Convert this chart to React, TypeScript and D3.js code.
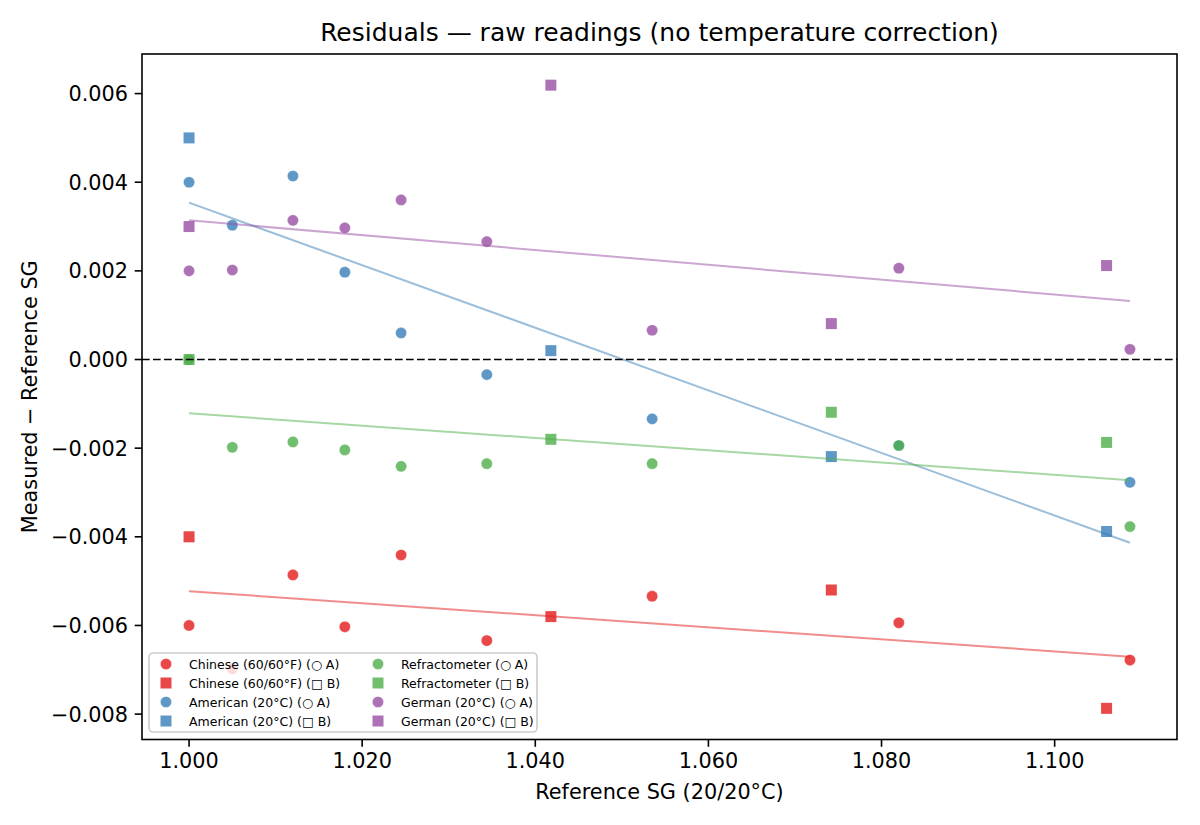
import React from 'react';
import * as d3 from 'd3';

// reference SG positions for the two sample sets
const sgA = [1.0, 1.005, 1.012, 1.018, 1.0245, 1.0344, 1.0535, 1.082, 1.1087];
const sgB = [1.0, 1.0418, 1.0742, 1.106];

const instruments = ['Chinese (60/60°F)', 'American (20°C)', 'Refractometer', 'German (20°C)'];
const colors = ['#e41a1c', '#377eb8', '#4daf4a', '#984ea3'];

// residuals, measured - reference
const chineseA = [-0.006, -0.00698, -0.00486, -0.00603, -0.00441, -0.00634, -0.00534, -0.00594, -0.00678];
const chineseB = [-0.004, -0.0058, -0.0052, -0.00787];
const americanA = [0.004, 0.00303, 0.00414, 0.00197, 0.0006, -0.00034, -0.00134, -0.00194, -0.00277];
const americanB = [0.005, 0.0002, -0.00219, -0.00388];
const refractA = [0.0, -0.00198, -0.00186, -0.00204, -0.00241, -0.00235, -0.00235, -0.00194, -0.00377];
const refractB = [0.0, -0.0018, -0.00119, -0.00187];
const germanA = [0.002, 0.00202, 0.00314, 0.00297, 0.0036, 0.00266, 0.00066, 0.00206, 0.00023];
const germanB = [0.003, 0.00619, 0.00081, 0.00212];

const seriesA = [chineseA, americanA, refractA, germanA];
const seriesB = [chineseB, americanB, refractB, germanB];

const xTicks = [1.0, 1.02, 1.04, 1.06, 1.08, 1.1];
const yTicks = [-0.008, -0.006, -0.004, -0.002, 0, 0.002, 0.004, 0.006];

const W = 1200;
const H = 825;
const left = 142;
const right = 1177;
const top = 54;
const bottom = 739.5;
const font = '"DejaVu Sans", sans-serif';

function padded(vals: number[]): [number, number] {
    const [lo, hi] = d3.extent(vals) as [number, number];
    const m = (hi - lo) * 0.05;
    return [lo - m, hi + m];
}

// ordinary least squares over both sets of one instrument
function fit(xs: number[], ys: number[]) {
    const mx = d3.mean(xs) as number;
    const my = d3.mean(ys) as number;
    let sxy = 0;
    let sxx = 0;
    xs.forEach((x, i) => {
        sxy += (x - mx) * (ys[i] - my);
        sxx += (x - mx) * (x - mx);
    });
    const slope = sxy / sxx;
    return (x: number) => my + slope * (x - mx);
}

const fmt = (v: number) => {
    const s = d3.format('.3f')(Math.abs(v));
    return v < -1e-12 ? '\u2212' + s : s;
};

const Marker: React.FC<{ kind: 'o' | 's'; cx: number; cy: number; color: string }> = ({ kind, cx, cy, color }) =>
    kind === 'o' ? (
        <circle cx={cx} cy={cy} r={5.6} fill={color} fillOpacity={0.8} stroke="#fff" strokeWidth={0.5} strokeOpacity={0.6} />
    ) : (
        <rect x={cx - 5.5} y={cy - 5.5} width={11} height={11} fill={color} fillOpacity={0.8} />
    );

export default function App() {
    const allX = [...sgA, ...sgB];
    const allY = [...seriesA.flat(), ...seriesB.flat()];
    const x = d3.scaleLinear().domain(padded(allX)).range([left, right]);
    const y = d3.scaleLinear().domain(padded(allY)).range([bottom, top]);
    const xLo = d3.min(allX) as number;
    const xHi = d3.max(allX) as number;

    const legendItems = instruments.flatMap((name, i) => [
        { label: `${name} (\u25CB A)`, kind: 'o' as const, color: colors[i] },
        { label: `${name} (\u25A1 B)`, kind: 's' as const, color: colors[i] },
    ]);

    return (
        <div style={{ position: 'absolute', left: 0, top: 0 }}>
            <svg width={W} height={H} viewBox={`0 0 ${W} ${H}`} style={{ display: 'block', background: '#fff' }}>
                <rect x={0} y={0} width={W} height={H} fill="#fff" />
                <defs>
                    <clipPath id="plot">
                        <rect x={left} y={top} width={right - left} height={bottom - top} />
                    </clipPath>
                </defs>

                <g clipPath="url(#plot)">
                    {instruments.map((name, i) => {
                        const f = fit([...sgA, ...sgB], [...seriesA[i], ...seriesB[i]]);
                        return (
                            <g key={name}>
                                {sgA.map((sg, j) => (
                                    <Marker key={'a' + j} kind="o" cx={x(sg)} cy={y(seriesA[i][j])} color={colors[i]} />
                                ))}
                                {sgB.map((sg, j) => (
                                    <Marker key={'b' + j} kind="s" cx={x(sg)} cy={y(seriesB[i][j])} color={colors[i]} />
                                ))}
                                <line
                                    x1={x(xLo)} y1={y(f(xLo))} x2={x(xHi)} y2={y(f(xHi))}
                                    stroke={colors[i]} strokeOpacity={0.5} strokeWidth={2}
                                />
                            </g>
                        );
                    })}
                    <line x1={left} x2={right} y1={y(0)} y2={y(0)} stroke="#000" strokeWidth={1.6} strokeDasharray="7.7,3.3" />
                </g>

                {/* axes frame */}
                <rect x={left} y={top} width={right - left} height={bottom - top} fill="none" stroke="#000" strokeWidth={1.6} />

                {xTicks.map(t => (
                    <g key={t} transform={`translate(${x(t)},${bottom})`}>
                        <line y2={7.3} stroke="#000" strokeWidth={1.6} />
                        <text y={28} textAnchor="middle" fontFamily={font} fontSize={20.8} fill="#000">{fmt(t)}</text>
                    </g>
                ))}
                {yTicks.map(t => (
                    <g key={t} transform={`translate(${left},${y(t)})`}>
                        <line x2={-7.3} stroke="#000" strokeWidth={1.6} />
                        <text x={-14} dy="0.36em" textAnchor="end" fontFamily={font} fontSize={20.8} fill="#000">{fmt(t)}</text>
                    </g>
                ))}

                <text x={(left + right) / 2} y={799} textAnchor="middle" fontFamily={font} fontSize={20.8} fill="#000">
                    Reference SG (20/20°C)
                </text>
                <text
                    transform={`translate(37,${(top + bottom) / 2}) rotate(-90)`}
                    textAnchor="middle" fontFamily={font} fontSize={20.8} fill="#000"
                >
                    Measured − Reference SG
                </text>
                <text x={(left + right) / 2} y={41} textAnchor="middle" fontFamily={font} fontSize={25} fill="#000">
                    Residuals — raw readings (no temperature correction)
                </text>

                {/* legend, two columns filled top to bottom */}
                <g>
                    <rect x={149} y={653} width={388} height={79} rx={4} fill="#fff" fillOpacity={0.8} stroke="#ccc" strokeWidth={1.6} />
                    {legendItems.map((it, k) => {
                        const col = Math.floor(k / 4);
                        const row = k % 4;
                        const mx = col === 0 ? 166 : 378;
                        const cy = 664 + row * 19;
                        return (
                            <g key={it.label}>
                                <Marker kind={it.kind} cx={mx} cy={cy} color={it.color} />
                                <text x={mx + 23} y={cy} dy="0.36em" fontFamily={font} fontSize={12.5} fill="#000">{it.label}</text>
                            </g>
                        );
                    })}
                </g>
            </svg>
        </div>
    );
}
